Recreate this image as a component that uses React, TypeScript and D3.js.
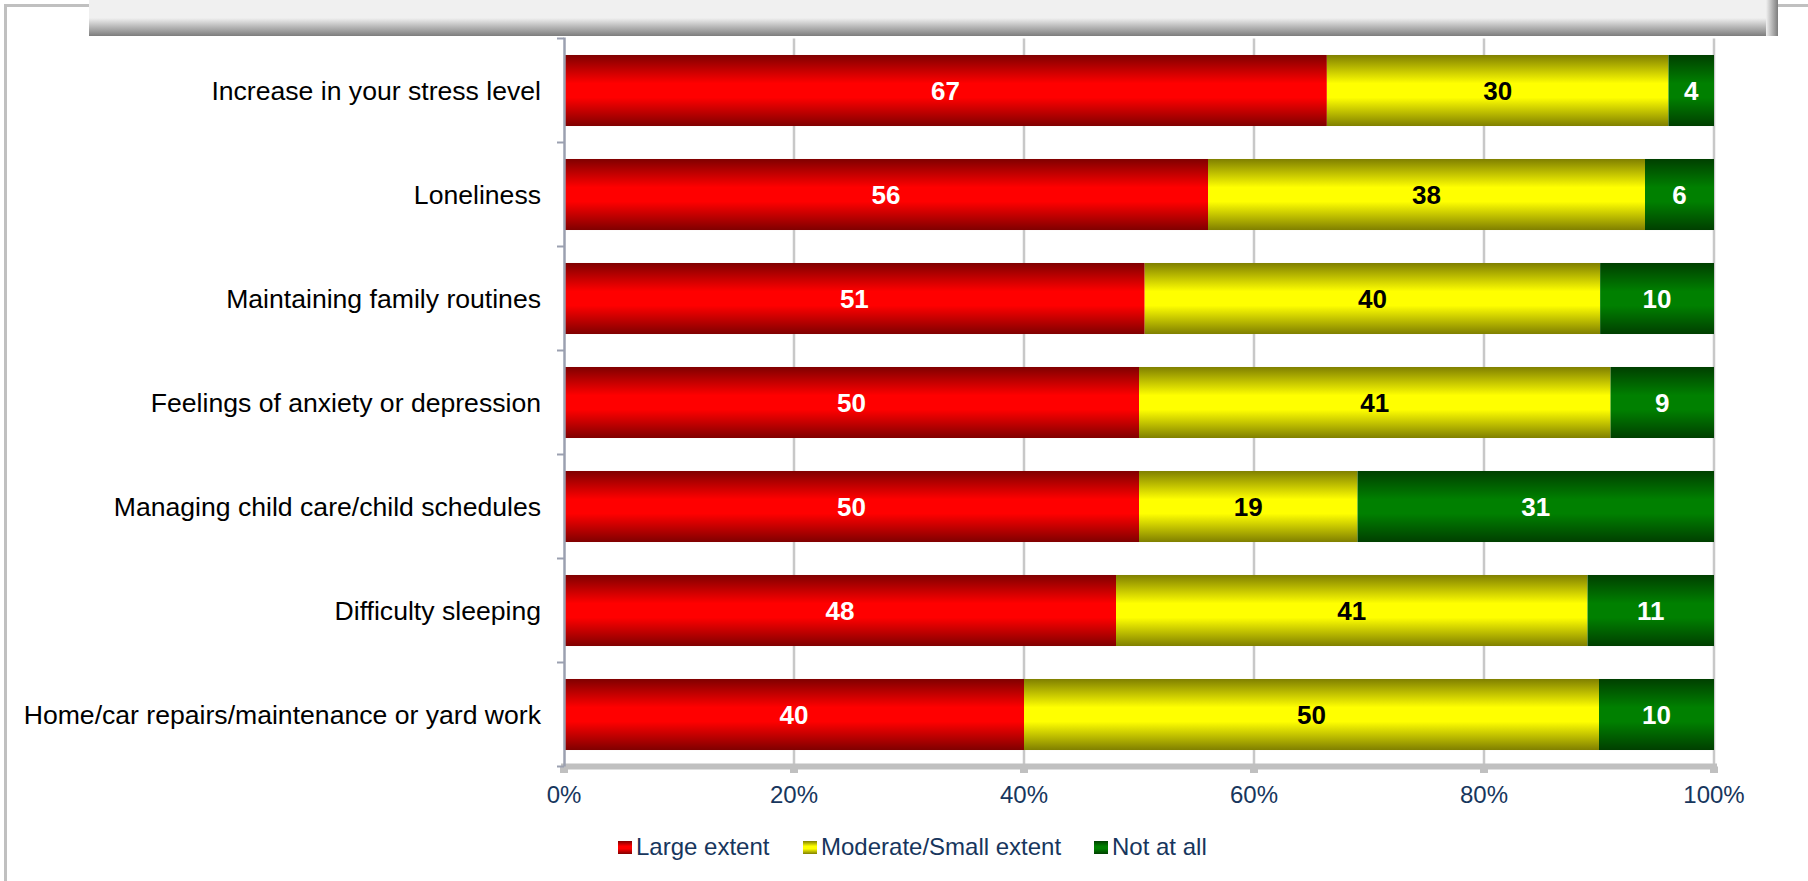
import React from "react";
import * as d3 from "d3";

const categories = [
  "Increase in your stress level",
  "Loneliness",
  "Maintaining family routines",
  "Feelings of anxiety or depression",
  "Managing child care/child schedules",
  "Difficulty sleeping",
  "Home/car repairs/maintenance or yard work",
];
const largeExtent = [67, 56, 51, 50, 50, 48, 40];
const moderateSmall = [30, 38, 40, 41, 19, 41, 50];
const notAtAll = [4, 6, 10, 9, 31, 11, 10];
const seriesKeys = ["large", "moderate", "none"];
const seriesNames = ["Large extent", "Moderate/Small extent", "Not at all"];
const xTickValues = [0, 0.2, 0.4, 0.6, 0.8, 1];

const W = 1808;
const H = 881;
const FONT = "'Liberation Sans', Arial, Helvetica, sans-serif";
const NAVY = "#17365d";

const gradColors: Record<string, [string, string]> = {
  large: ["#800000", "#ff0000"],
  moderate: ["#808000", "#ffff00"],
  none: ["#003f00", "#008000"],
};
const labelColor: Record<string, string> = {
  large: "#ffffff",
  moderate: "#000000",
  none: "#ffffff",
};

export default function App() {
  const rows = categories.map((c, i) => ({
    category: c,
    large: largeExtent[i],
    moderate: moderateSmall[i],
    none: notAtAll[i],
  }));

  const stacked = d3
    .stack<any>()
    .keys(seriesKeys)
    .offset(d3.stackOffsetExpand)(rows);

  const plotLeft = 564;
  const plotRight = 1714;
  const plotTop = 38.5;
  const plotBottom = 766.5;

  const x = d3.scaleLinear().domain([0, 1]).range([plotLeft, plotRight]);
  const y = d3
    .scaleBand<string>()
    .domain(categories)
    .range([plotTop, plotBottom])
    .paddingInner(0.317)
    .paddingOuter(0.1585);

  const step = y.step();
  const boundaries = d3.range(categories.length + 1).map((i) => plotTop + i * step);
  const fmt = d3.format(".0%");

  const legendX = [618, 803, 1094];

  return (
    <div style={{ position: "absolute", left: 0, top: 0 }}>
      <svg width={W} height={H} style={{ display: "block" }} fontFamily={FONT}>
        <defs>
          {seriesKeys.map((k) => (
            <linearGradient key={k} id={`g-${k}`} x1="0" y1="0" x2="0" y2="1">
              <stop offset="0" stopColor={gradColors[k][0]} />
              <stop offset="0.4" stopColor={gradColors[k][1]} />
              <stop offset="0.6" stopColor={gradColors[k][1]} />
              <stop offset="1" stopColor={gradColors[k][0]} />
            </linearGradient>
          ))}
          <linearGradient id="boxShadowB" x1="0" y1="0" x2="0" y2="1">
            <stop offset="0" stopColor="#f0f0f0" />
            <stop offset="1" stopColor="#7d7d7d" />
          </linearGradient>
          <linearGradient id="boxShadowR" x1="0" y1="0" x2="1" y2="0">
            <stop offset="0" stopColor="#f0f0f0" />
            <stop offset="1" stopColor="#7d7d7d" />
          </linearGradient>
        </defs>

        <rect x={0} y={0} width={W} height={H} fill="#ffffff" />
        {/* outer frame */}
        <rect x={5.5} y={5.5} width={W + 20} height={H + 20} fill="none" stroke="#c0c0c0" strokeWidth={3} />

        {/* title box (cut off at top) */}
        <rect x={89} y={-40} width={1689} height={76} fill="#f0f0f0" />
        <rect x={89} y={18} width={1689} height={18} fill="url(#boxShadowB)" />
        <rect x={1766} y={-40} width={12} height={76} fill="url(#boxShadowR)" />

        {/* gridlines */}
        {xTickValues.filter((t) => t > 0).map((t) => (
          <line key={t} x1={x(t)} x2={x(t)} y1={plotTop} y2={plotBottom} stroke="#c8c8c8" strokeWidth={2.5} />
        ))}

        {/* bars */}
        {stacked.map((s) => (
          <g key={s.key}>
            {s.map((d, i) => (
              <rect
                key={i}
                x={x(d[0])}
                y={y(categories[i])}
                width={x(d[1]) - x(d[0])}
                height={y.bandwidth()}
                fill={`url(#g-${s.key})`}
              />
            ))}
          </g>
        ))}

        {/* value labels */}
        {stacked.map((s) => (
          <g key={`l-${s.key}`}>
            {s.map((d, i) => (
              <text
                key={i}
                x={(x(d[0]) + x(d[1])) / 2}
                y={(y(categories[i]) as number) + y.bandwidth() / 2}
                dy="0.36em"
                textAnchor="middle"
                fontSize={26}
                fontWeight="bold"
                fill={labelColor[s.key]}
              >
                {(d.data as any)[s.key]}
              </text>
            ))}
          </g>
        ))}

        {/* x axis */}
        <line x1={561} x2={1717} y1={plotBottom} y2={plotBottom} stroke="#c0c0c0" strokeWidth={6} />
        {xTickValues.map((t) => (
          <rect key={t} x={x(t) - 4} y={plotBottom} width={8} height={6.5} fill="#c0c0c0" />
        ))}
        {xTickValues.map((t) => (
          <text key={t} x={x(t)} y={803} textAnchor="middle" fontSize={24} fill={NAVY}>
            {fmt(t)}
          </text>
        ))}

        {/* y axis */}
        <line x1={plotLeft + 0.5} x2={plotLeft + 0.5} y1={plotTop - 1} y2={plotBottom} stroke="#9ba0b0" strokeWidth={2.5} />
        {boundaries.map((b, i) => (
          <line key={i} x1={557} x2={plotLeft} y1={b} y2={b} stroke="#9ba0b0" strokeWidth={2} />
        ))}
        {categories.map((c) => (
          <text
            key={c}
            x={541}
            y={(y(c) as number) + y.bandwidth() / 2}
            dy="0.35em"
            textAnchor="end"
            fontSize={26.6}
            fill="#000000"
          >
            {c}
          </text>
        ))}

        {/* legend */}
        {seriesKeys.map((k, i) => (
          <g key={k} transform={`translate(${legendX[i]},0)`}>
            <rect x={0} y={841} width={14} height={13} fill={`url(#g-${k})`} />
            <text x={18} y={855} fontSize={24} fill={NAVY}>
              {seriesNames[i]}
            </text>
          </g>
        ))}
      </svg>
    </div>
  );
}
